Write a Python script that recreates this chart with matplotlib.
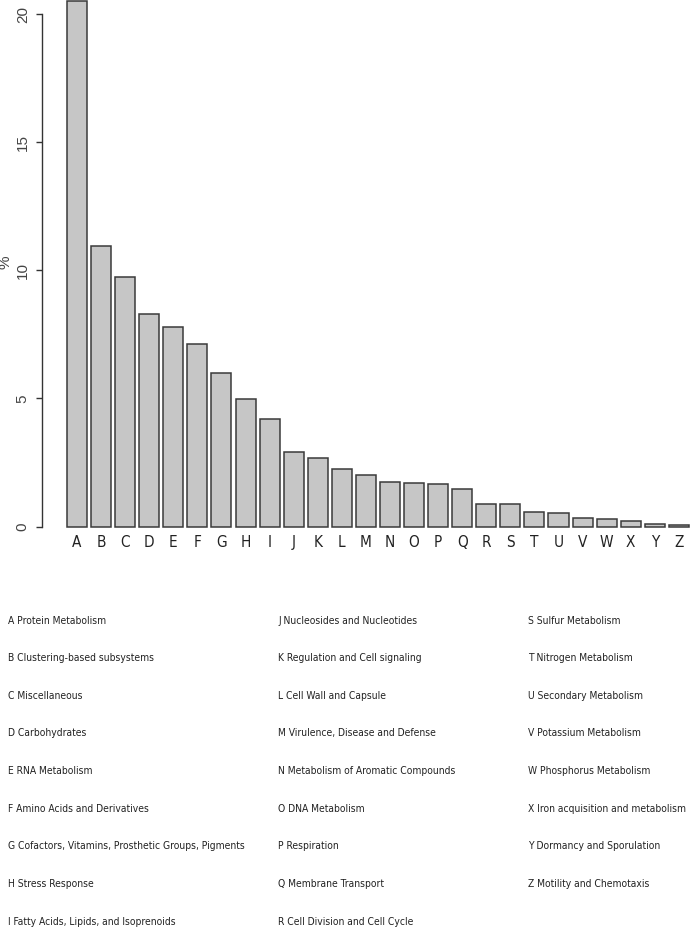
import numpy as np
import matplotlib
matplotlib.use("Agg")
import matplotlib.pyplot as plt
from matplotlib import font_manager

letters = list("ABCDEFGHIJKLMNOPQRSTUVWXYZ")
subsystems = ["Protein Metabolism", "Clustering-based subsystems", "Miscellaneous",
              "Carbohydrates", "RNA Metabolism", "Amino Acids and Derivatives",
              "Cofactors, Vitamins, Prosthetic Groups, Pigments", "Stress Response",
              "Fatty Acids, Lipids, and Isoprenoids", "Nucleosides and Nucleotides",
              "Regulation and Cell signaling", "Cell Wall and Capsule",
              "Virulence, Disease and Defense", "Metabolism of Aromatic Compounds",
              "DNA Metabolism", "Respiration", "Membrane Transport",
              "Cell Division and Cell Cycle", "Sulfur Metabolism", "Nitrogen Metabolism",
              "Secondary Metabolism", "Potassium Metabolism", "Phosphorus Metabolism",
              "Iron acquisition and metabolism", "Dormancy and Sporulation",
              "Motility and Chemotaxis"]
percent = [20.5, 10.94, 9.75, 8.28, 7.79, 7.12, 6.00, 4.96, 4.19, 2.92, 2.66, 2.26, 2.01,
           1.75, 1.71, 1.67, 1.45, 0.88, 0.88, 0.55, 0.51, 0.35, 0.31, 0.21, 0.11, 0.06]
yticks = [0, 5, 10, 15, 20]

names = {f.name for f in font_manager.fontManager.ttflist}
if "Liberation Sans Narrow" in names:
    narrow = dict(family="Liberation Sans Narrow")
else:
    narrow = dict(family="DejaVu Sans", stretch="condensed")
plain = "Liberation Sans" if "Liberation Sans" in names else "DejaVu Sans"

W, H = 691, 932
fig = plt.figure(figsize=(W / 100, H / 100), dpi=100)

# axes placed in pixels: y axis line at x=42, baseline at y=526.5, top at 0
ax = fig.add_axes([42 / W, 1 - 526.5 / H, (W - 42) / W, 526.5 / H])
ax.set_facecolor("none")

pos = 0.7 + 1.2 * np.arange(len(letters))   # R barplot spacing (width 1, space 0.2)
ax.bar(pos, percent, width=1.0, color="#c6c6c6", edgecolor="#3a3a3a",
       linewidth=1.1, clip_on=False)

ax.set_xlim(0.2 - 25 / 20.06, 0.2 + 624 / 20.06)
ax.set_ylim(0, 526.5 / 25.62)

for s in ["top", "right", "bottom"]:
    ax.spines[s].set_visible(False)
ax.spines["left"].set_bounds(0, 20)
ax.spines["left"].set_color("#333333")
ax.spines["left"].set_linewidth(1.0)

ax.set_yticks(yticks)
ax.set_yticklabels([str(v) for v in yticks], rotation=90, va="center",
                   fontsize=11, family=plain, color="#444444")
ax.tick_params(axis="y", direction="out", length=4.3, width=1.0, pad=4.5,
               color="#333333")

ax.set_xticks(pos)
ax.set_xticklabels(letters, fontsize=11, color="#222222", **narrow)
ax.tick_params(axis="x", length=0, pad=6)

fig.text(6 / W, 1 - 262 / H, "%", rotation=90, ha="center", va="center",
         fontsize=11, family=plain, color="#444444")

# legend of the letters, three columns below the bars
col_x = [8, 278, 528]
row_y = [620.5 + 37.65 * k for k in range(9)]
labels = [f"{l} {s}" for l, s in zip(letters, subsystems)]

# fit the font size so the widest lines keep inside their columns
fig.canvas.draw()
fs = 10.0
for lab, room in [(labels[6], 245), (labels[23], 158)]:
    probe = fig.text(0, 0, lab, fontsize=10, **narrow)
    w = probe.get_window_extent(fig.canvas.get_renderer()).width
    probe.remove()
    fs = min(fs, 10 * room / w)

for i, lab in enumerate(labels):
    c, r = divmod(i, 9)
    fig.text(col_x[c] / W, 1 - row_y[r] / H, lab, ha="left", va="center",
             fontsize=fs, color="#222222", **narrow)

fig.savefig("out.png", dpi=100)
